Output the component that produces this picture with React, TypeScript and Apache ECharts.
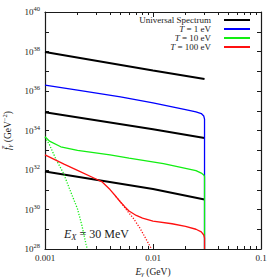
import React, { useEffect, useRef } from "react";
import * as echarts from "echarts";

// ---- data ----
const xTickLabels = ["0.001", "0.01", "0.1"];
const yTickExponents = [28, 30, 32, 34, 36, 38, 40];

const energyUniversal = [0.001, 0.01, 0.03];
const universalA = [9.5e37, 1.1e37, 4.1e36];
const universalB = [8.3e34, 1.17e34, 4.2e33];
const universalC = [8.3e31, 1.1e31, 3.2e30];

const energyT1 = [0.001, 0.002, 0.005, 0.01, 0.02, 0.025, 0.028, 0.0295, 0.03, 0.03];
const spectrumT1 = [2.0e36, 1.12e36, 5.0e35, 2.5e35, 1.15e35, 8.7e34, 7.2e34, 5.4e34, 3.8e34, 1e28];

const energyT10 = [0.001, 0.0011, 0.0014, 0.002, 0.004, 0.006, 0.0125, 0.025, 0.028, 0.0295, 0.03, 0.03];
const spectrumT10 = [4.9e33, 2.9e33, 1.5e33, 9.8e32, 5.8e32, 4.0e32, 2.1e32, 9.3e31, 7.0e31, 5.6e31, 4.7e31, 1e28];

const energyT10Dotted = [0.001, 0.0011, 0.00126, 0.00148, 0.0017, 0.002, 0.0022, 0.0024, 0.00246];
const spectrumT10Dotted = [4.6e33, 1.9e33, 3.6e32, 7.0e31, 1.0e31, 1.07e30, 1.5e29, 1.7e28, 1e28];

const energyT100 = [0.001, 0.0015, 0.002, 0.003, 0.00335, 0.004, 0.0045, 0.005, 0.0055, 0.006, 0.007, 0.008, 0.01, 0.015, 0.02, 0.025, 0.028, 0.0295, 0.03, 0.03];
const spectrumT100 = [5.8e32, 2.0e32, 9.6e31, 3.4e31, 2.6e31, 1.02e31, 4.8e30, 2.4e30, 1.35e30, 8.4e29, 5.0e29, 3.7e29, 2.6e29, 1.9e29, 1.4e29, 1.0e29, 7.3e28, 5.1e28, 3.6e28, 1e28];

const energyT100Dotted = [0.0045, 0.005, 0.0057, 0.0066, 0.0076, 0.0087, 0.0097];
const spectrumT100Dotted = [4.8e30, 2.4e30, 9.3e29, 3.5e29, 1.1e29, 2.9e28, 1e28];

const legendNames = ["Universal Spectrum", "T = 1 eV", "T = 10 eV", "T = 100 eV"];

// ---- styling ----
const serif = "'Liberation Serif', 'DejaVu Serif', serif";
const ink = "#1a1a1a";
const BLUE = "#0000ff";
const GREEN = "#12ee12";
const RED = "#ff1010";

const pairs = (xs: number[], ys: number[]) => xs.map((x, i) => [x, ys[i]]);

function lineSeries(name: string, xs: number[], ys: number[], color: string, width: number, dotted = false) {
  return {
    type: "line",
    name,
    data: pairs(xs, ys),
    showSymbol: false,
    symbol: "none",
    clip: true,
    color,
    itemStyle: { color },
    lineStyle: { color, width, type: dotted ? [1.2, 1.6] : "solid" },
    emphasis: { disabled: true },
  };
}

export default function App() {
  const ref = useRef<HTMLDivElement>(null);
  useEffect(() => {
    if (!ref.current) return;
    const chart = echarts.init(ref.current, undefined, { renderer: "svg" });
    const axisCommon = {
      type: "log",
      logBase: 10,
      axisLine: { show: true, lineStyle: { color: ink, width: 1.2 } },
      splitLine: { show: false },
      minorSplitLine: { show: false },
    };
    const xCommon = {
      ...axisCommon,
      min: 0.001,
      max: 0.1,
      splitNumber: 2,
      axisTick: { show: true, inside: true, length: 5, lineStyle: { color: ink, width: 1 } },
      minorTick: { show: true, splitNumber: 9, length: 3, lineStyle: { color: ink, width: 1 } },
    };
    const yCommon = {
      ...axisCommon,
      min: 1e28,
      max: 1e40,
      interval: 1,
      splitNumber: 12,
      axisTick: { show: true, inside: true, length: 4, lineStyle: { color: ink, width: 1 } },
      minorTick: { show: false },
    };
    const option = {
      animation: false,
      backgroundColor: "#ffffff",
      grid: { left: 45, right: 18, top: 12, bottom: 30, outerBoundsMode: "none" },
      xAxis: [
        {
          ...xCommon,
          position: "bottom",
          name: "{i|E}{sub|γ}{n| (GeV)}",
          nameLocation: "middle",
          nameGap: 15,
          nameTextStyle: {
            rich: {
              i: { fontFamily: serif, fontStyle: "italic", fontSize: 9.5, color: ink },
              sub: { fontFamily: serif, fontStyle: "italic", fontSize: 7, color: ink, padding: [5, 0, 0, 0] },
              n: { fontFamily: serif, fontSize: 9.5, color: ink },
            },
          },
          axisLabel: {
            show: true,
            margin: 4,
            fontFamily: serif,
            fontSize: 9,
            color: ink,
            formatter: (v: number) => xTickLabels[Math.round(Math.log10(v)) + 3] ?? "",
          },
        },
        { ...xCommon, position: "top", axisLabel: { show: false } },
      ],
      yAxis: [
        {
          ...yCommon,
          position: "left",
          name: "{i|f\u0304}{sub|γ}{n| (GeV}{sup|−2}{n|)}",
          nameLocation: "middle",
          nameRotate: 90,
          nameGap: 31,
          nameTextStyle: {
            rich: {
              i: { fontFamily: serif, fontStyle: "italic", fontSize: 9.5, color: ink },
              sub: { fontFamily: serif, fontStyle: "italic", fontSize: 7, color: ink, padding: [5, 0, 0, 0] },
              sup: { fontFamily: serif, fontSize: 6.5, color: ink, padding: [0, 0, 6, 0] },
              n: { fontFamily: serif, fontSize: 9.5, color: ink },
            },
          },
          axisLabel: {
            show: true,
            margin: 5,
            color: ink,
            hideOverlap: false,
            showMinLabel: true,
            showMaxLabel: true,
            formatter: (v: number) => {
              const e = Math.round(Math.log10(v));
              return yTickExponents.includes(e) ? `{b|10}{s|${e}}` : "";
            },
            rich: {
              b: { fontFamily: serif, fontSize: 9, color: ink },
              s: { fontFamily: serif, fontSize: 6.5, color: ink, padding: [0, 0, 7, 0] },
            },
          },
        },
        { ...yCommon, position: "right", axisLabel: { show: false } },
      ],
      legend: {
        data: legendNames,
        orient: "vertical",
        right: 29,
        top: 15.5,
        align: "right",
        icon: "rect",
        itemWidth: 26,
        itemHeight: 2,
        itemGap: 0,
        padding: 0,
        selectedMode: false,
        formatter: (name: string) =>
          name.startsWith("T") ? `{i|T}{n|${name.slice(1)}}` : `{n|${name}}`,
        textStyle: {
          fontFamily: serif,
          fontSize: 9,
          color: ink,
          lineHeight: 9,
          padding: [0, 8, 0, 0],
          rich: {
            i: { fontFamily: serif, fontStyle: "italic", fontSize: 9, color: ink, lineHeight: 9 },
            n: { fontFamily: serif, fontSize: 9, color: ink, lineHeight: 9 },
          },
        },
      },
      graphic: [
        {
          type: "text",
          x: 96.5,
          y: 234,
          silent: true,
          style: {
            text: "{i|E}{sub|X}{n| = 30 MeV}",
            align: "center",
            verticalAlign: "middle",
            fill: ink,
            rich: {
              i: { fontFamily: serif, fontStyle: "italic", fontSize: 12, fill: ink },
              sub: { fontFamily: serif, fontStyle: "italic", fontSize: 8.5, fill: ink, padding: [6, 0, 0, 0] },
              n: { fontFamily: serif, fontSize: 12, fill: ink },
            },
          },
        },
      ],
      series: [
        lineSeries("Universal Spectrum", energyUniversal, universalA, "#000000", 2),
        lineSeries("Universal Spectrum", energyUniversal, universalB, "#000000", 2),
        lineSeries("Universal Spectrum", energyUniversal, universalC, "#000000", 2),
        lineSeries("T = 1 eV", energyT1, spectrumT1, BLUE, 1.3),
        lineSeries("T = 10 eV", energyT10, spectrumT10, GREEN, 1.3),
        lineSeries("T = 10 eV (dotted)", energyT10Dotted, spectrumT10Dotted, GREEN, 1.3, true),
        lineSeries("T = 100 eV", energyT100, spectrumT100, RED, 1.3),
        lineSeries("T = 100 eV (dotted)", energyT100Dotted, spectrumT100Dotted, RED, 1.3, true),
      ],
    };
    chart.setOption(option as any);
    return () => chart.dispose();
  }, []);
  return (
    <div
      ref={ref}
      style={{ position: "fixed", left: 0, top: 0, width: 279, height: 279, background: "#fff" }}
    />
  );
}
